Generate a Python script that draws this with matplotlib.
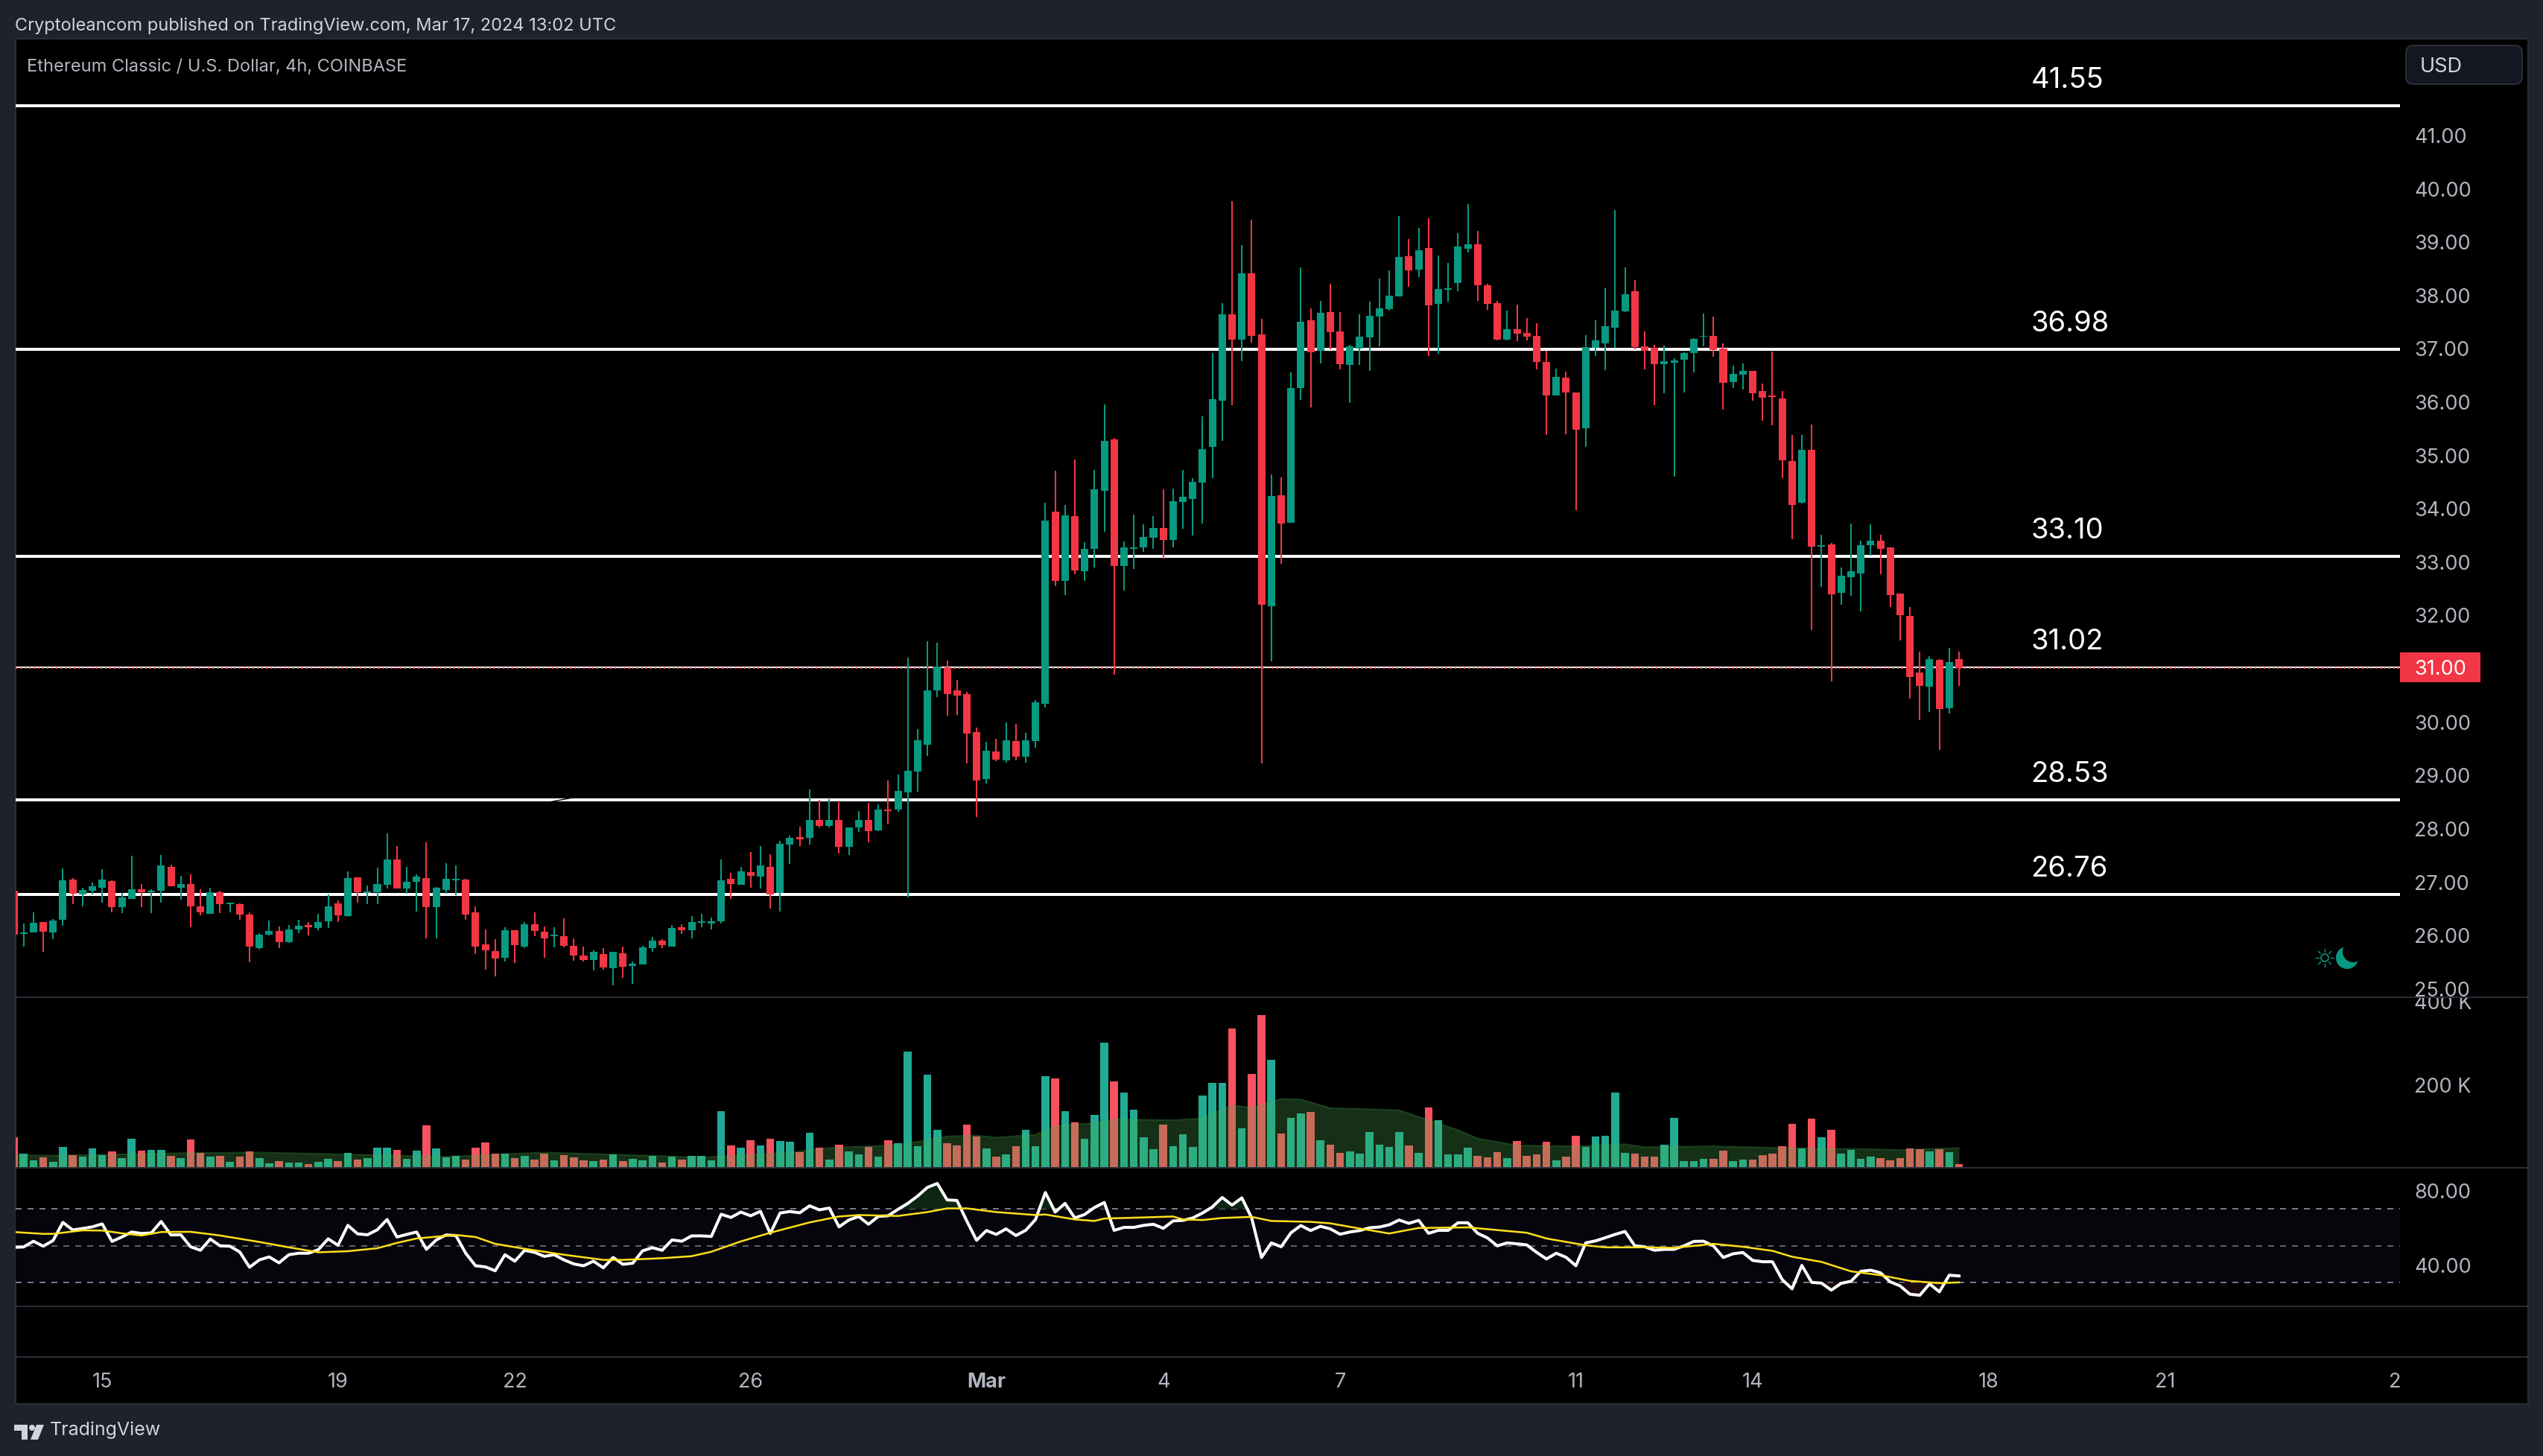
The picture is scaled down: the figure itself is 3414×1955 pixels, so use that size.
# -*- coding: utf-8 -*-
"""ETC/USD 4h chart with volume and RSI panes, TradingView dark layout."""
#%% Imports
import numpy as np
import matplotlib
matplotlib.use("Agg")
import matplotlib.pyplot as plt
from matplotlib.patches import Rectangle, FancyBboxPatch, Circle, Polygon
from matplotlib.transforms import Bbox

plt.rcParams['font.family'] = ['Inter', 'DejaVu Sans']

#%% Data, one entry per 4h candle
highs = [26.82,26.21,26.42,26.24,26.29,27.24,27.06,26.88,26.98,27.23,
         27.02,26.78,27.48,26.95,26.85,27.49,27.31,27.10,27.13,26.85,
         26.88,26.82,26.60,26.59,26.42,26.03,26.27,26.15,26.18,26.28,
         26.24,26.39,26.75,26.64,27.19,27.08,26.92,27.26,27.90,27.66,
         27.27,27.13,27.73,26.89,27.34,27.30,27.05,26.53,26.10,25.92,
         26.14,26.08,26.24,26.42,26.15,26.14,26.31,25.93,25.78,25.71,
         25.75,25.68,25.78,25.50,25.79,25.96,25.92,26.18,26.20,26.35,
         26.39,26.32,27.41,27.16,27.27,27.55,27.66,27.51,27.76,27.86,
         28.03,28.72,28.53,28.54,28.49,28.01,28.32,28.47,28.44,28.89,
         29.00,31.20,29.85,31.50,31.47,31.14,30.78,30.55,29.88,29.62,
         29.67,29.98,29.95,29.78,30.40,34.10,34.70,34.06,34.91,33.36,
         34.71,35.94,35.32,33.37,33.88,33.69,33.85,34.35,34.36,34.71,
         34.56,35.72,36.91,37.84,39.76,38.93,39.41,37.55,34.63,34.58,
         36.54,38.51,37.75,37.88,38.21,37.68,37.06,37.63,37.87,38.30,
         38.46,39.48,39.04,39.25,39.44,38.74,38.60,39.16,39.70,39.20,
         38.21,37.89,37.70,37.82,37.56,37.47,36.95,36.62,36.56,36.17,
         37.24,37.52,38.12,39.59,38.51,38.28,37.31,37.06,37.05,36.81,
         36.92,37.19,37.65,37.59,37.09,36.67,36.71,36.57,36.34,36.94,
         36.20,35.37,35.37,35.57,33.50,33.35,32.89,33.71,33.39,33.70,
         33.50,33.26,32.40,32.15,31.31,31.22,31.17,31.38,31.31]

body_tops = [26.82,26.04,26.22,26.24,26.27,27.02,27.03,26.84,26.91,27.03,
             27.01,26.70,26.85,26.85,26.82,27.30,27.28,26.95,26.95,26.54,
             26.80,26.80,26.60,26.57,26.38,26.00,26.07,26.07,26.10,26.17,
             26.18,26.24,26.54,26.59,27.06,27.08,26.81,26.95,27.41,27.41,
             26.99,27.09,27.06,26.88,27.05,27.05,27.03,26.42,25.82,25.69,
             26.08,26.08,26.20,26.20,26.06,26.00,25.97,25.79,25.61,25.68,
             25.64,25.68,25.66,25.46,25.76,25.89,25.89,26.13,26.14,26.24,
             26.25,26.25,27.02,27.05,27.19,27.17,27.30,27.27,27.70,27.82,
             27.83,28.15,28.16,28.15,28.16,28.01,28.15,28.16,28.35,28.35,
             28.70,29.07,29.65,30.58,31.03,31.01,30.58,30.51,29.80,29.45,
             29.44,29.65,29.63,29.65,30.36,33.76,33.93,33.86,33.85,33.24,
             34.35,35.26,35.29,33.26,33.27,33.46,33.62,33.62,34.13,34.21,
             34.49,35.10,36.04,37.63,37.63,38.40,38.40,37.26,34.23,34.24,
             36.25,37.49,37.52,37.66,37.68,37.31,37.03,37.22,37.61,37.75,
             37.98,38.71,38.72,38.83,38.88,38.11,38.12,38.90,38.95,38.95,
             38.18,37.84,37.35,37.35,37.28,37.23,36.74,36.46,36.45,36.17,
             37.02,37.15,37.41,37.70,38.01,38.07,37.03,37.01,36.75,36.77,
             36.91,37.17,37.23,37.23,36.99,36.52,36.57,36.57,36.20,36.11,
             36.06,34.88,35.09,35.09,33.31,33.32,32.73,32.82,33.31,33.39,
             33.39,33.26,32.40,31.98,30.92,31.17,31.16,31.11,31.17]

body_bottoms = [26.00,26.02,26.04,26.06,26.04,26.28,26.77,26.75,26.82,26.88,
                26.52,26.52,26.68,26.80,26.80,26.82,26.91,26.88,26.53,26.42,
                26.39,26.57,26.57,26.38,25.78,25.75,26.00,25.86,25.87,26.10,
                26.14,26.13,26.25,26.36,26.35,26.80,26.78,26.80,26.94,26.87,
                26.87,26.99,26.52,26.52,26.84,27.02,26.38,25.78,25.71,25.55,
                25.57,25.81,25.78,26.07,25.93,25.97,25.79,25.61,25.53,25.53,
                25.39,25.37,25.40,25.41,25.44,25.75,25.81,25.78,26.08,26.08,
                26.22,26.21,26.25,26.95,26.94,27.10,27.09,26.75,26.78,27.69,
                27.79,27.82,28.04,28.04,27.65,27.65,28.01,27.94,27.96,28.32,
                28.35,28.67,29.06,29.56,30.58,30.51,30.48,29.77,28.90,28.92,
                29.28,29.27,29.34,29.34,29.63,30.33,32.63,32.64,32.83,32.82,
                33.24,34.32,32.91,32.91,33.24,33.27,33.44,33.41,33.41,34.11,
                34.17,34.48,35.15,36.02,37.16,37.16,37.23,32.19,32.16,33.71,
                33.72,36.25,36.92,36.95,37.30,36.70,36.68,36.99,37.20,37.59,
                37.73,37.97,38.46,38.47,37.80,37.83,38.10,38.22,38.86,38.18,
                37.83,37.16,37.16,37.27,37.22,36.74,36.11,36.11,36.17,35.47,
                35.50,37.01,37.09,37.38,37.69,37.02,36.95,36.70,36.70,36.73,
                36.78,36.91,37.21,36.96,36.35,36.36,36.50,36.15,36.07,36.09,
                34.90,34.06,34.10,33.28,33.28,32.39,32.41,32.71,32.78,33.31,
                33.24,32.37,31.99,30.83,30.67,30.65,30.23,30.25,31.00]

lows = [26.00,25.78,26.04,25.68,25.92,26.17,26.57,26.54,26.75,26.61,
        26.42,26.41,26.67,26.52,26.41,26.60,26.91,26.66,26.14,26.36,
        26.39,26.41,26.42,26.28,25.48,25.72,25.99,25.75,25.85,26.03,
        25.99,26.08,26.13,26.24,26.34,26.60,26.57,26.57,26.87,26.87,
        26.77,26.43,25.93,25.93,26.77,26.74,26.28,25.64,25.34,25.22,
        25.50,25.47,25.75,25.97,25.57,25.76,25.76,25.51,25.50,25.33,
        25.34,25.06,25.19,25.08,25.44,25.68,25.75,25.78,26.01,25.94,
        26.14,26.10,26.21,26.68,26.94,26.88,26.87,26.49,26.43,27.33,
        27.66,27.69,28.01,28.01,27.52,27.49,27.93,27.73,27.94,28.08,
        28.30,26.70,28.68,29.35,30.45,30.11,30.12,29.21,28.21,28.84,
        29.25,29.23,29.27,29.23,29.51,30.26,32.54,32.37,32.76,32.64,
        32.89,33.56,30.87,32.45,32.86,33.18,33.24,33.06,33.27,33.61,
        33.48,33.71,34.56,35.26,35.93,36.75,37.10,29.21,31.13,32.96,
        33.72,36.03,35.89,36.71,36.98,36.60,35.97,36.68,36.57,37.03,
        37.70,37.97,38.15,38.33,36.85,36.89,37.87,38.07,38.79,37.89,
        37.72,37.15,37.15,37.13,37.15,36.60,35.37,36.11,35.39,33.96,
        35.15,36.85,36.59,37.01,37.68,36.98,36.60,35.93,36.15,34.59,
        36.17,36.54,37.03,36.84,35.85,36.25,36.22,36.01,35.64,35.55,
        34.56,33.42,34.09,31.71,32.52,30.75,32.19,32.36,32.06,33.11,
        32.76,32.15,31.52,30.43,30.02,30.18,29.47,30.15,30.67]

directions = ("rggrggrggg" "rggrggrgrr" "grgrrggrgg" "rggrgrgggr" "ggrgggrrrr"
              "grgrrgrrrg" "rgrgggrgrg" "gggrgrgrgg" "rgrgrggrgr" "gggggrrrrg"
              "rgrgggrgrg" "ggrggggrgg" "ggggrgrrgr" "ggrgrrgggg" "ggrgrggggr"
              "rrgrrrrgrr" "gggggrrrgg" "gggrrggrrr" "rrgrgrgggg" "rrrrrgrgr")

volume_k = [71,32,16,23,12,48,28,25,45,28,38,21,68,40,41,41,27,21,67,34,
            25,27,12,25,38,21,9,14,11,11,7,12,20,14,34,18,21,47,47,41,
            20,40,101,45,23,27,18,47,60,32,32,21,27,18,32,16,28,23,16,14,
            18,30,14,20,16,27,11,25,18,27,27,16,135,52,47,65,52,68,63,61,
            36,83,47,18,54,38,30,48,25,65,57,278,50,223,90,57,52,103,74,45,
            25,30,50,90,50,218,213,135,108,68,126,299,207,180,139,72,43,103,50,79,
            48,173,203,202,334,94,225,366,259,81,119,130,133,65,54,34,38,32,84,54,
            48,84,52,34,143,113,30,30,47,27,23,36,21,63,27,30,61,16,25,76,
            48,74,76,180,34,32,25,25,54,119,14,14,20,20,40,14,18,18,28,32,
            50,104,45,117,72,90,32,41,20,25,21,16,21,45,43,38,43,36,7]

volume_ma_idx = [0,5,18,25,31,44,54,64,70,74,79,83,90,95,98,100,104,106,110,112,
                 118,121,124,126,129,131,134,137,141,143,147,149,153,159,164,166,173,180,189,192,198]
volume_ma_k = [28,28,34,35,32,25,35,28,23,28,35,46,53,74,76,71,78,99,106,115,
               113,117,149,143,164,163,142,140,137,121,89,69,52,50,55,48,50,46,43,41,46]

rsi = [49.2,49.4,52.5,49.8,52.9,62.7,58.6,59.4,60.3,61.9,
       52.4,54.8,57.5,56.7,57.0,63.2,55.9,56.0,49.5,47.6,
       53.7,50.0,49.8,46.7,38.4,42.4,44.0,40.8,45.2,46.0,
       46.0,47.9,53.8,50.3,61.1,56.5,56.0,58.7,64.3,54.8,
       56.2,57.5,48.1,53.2,55.9,55.6,46.0,39.2,38.6,36.5,
       45.2,41.7,47.6,46.5,44.3,45.2,42.4,40.2,39.2,41.7,
       38.1,43.7,40.0,40.6,47.3,49.0,47.6,53.2,52.5,55.4,
       55.4,55.1,67.1,65.4,68.3,66.3,68.7,56.7,67.8,68.6,
       67.9,71.7,69.5,70.5,60.3,64.0,65.9,61.7,66.0,66.3,
       69.8,73.0,77.0,81.7,83.8,74.9,74.6,63.5,53.0,58.3,
       56.2,59.2,55.6,58.4,64.3,78.9,68.3,73.0,65.1,67.0,
       70.8,73.5,58.4,60.0,60.0,61.1,61.7,59.5,63.5,63.8,
       65.1,67.8,71.1,76.2,72.1,76.0,65.1,43.7,51.6,49.5,
       57.1,61.0,58.3,60.6,59.2,56.3,57.5,58.3,59.8,60.2,
       61.4,64.0,62.2,63.8,56.8,58.4,58.4,62.5,62.5,56.8,
       54.3,50.0,51.6,51.1,50.5,46.5,42.9,46.0,43.8,39.2,
       51.6,52.7,54.4,56.2,57.8,50.0,49.5,47.6,48.1,48.1,
       50.0,52.4,52.5,50.0,43.7,45.7,46.4,42.1,41.4,41.4,
       31.7,26.7,39.4,30.2,29.8,26.0,29.7,30.8,36.2,36.8,
       35.4,30.5,28.3,23.8,23.2,29.4,25.1,34.1,33.7]

rsi_ma_idx = [0,3,4,7,9,11,13,15,18,20,21,25,28,31,34,37,39,41,45,47,49,52,56,60,62,
              66,69,71,74,77,81,84,86,90,93,95,97,100,104,105,108,110,111,115,118,119,
              121,123,126,128,132,134,136,140,143,148,154,156,160,162,166,169,173,176,
              179,181,184,187,190,193,196,198]
rsi_ma = [57.5,56.5,56.5,58.4,58.3,56.8,55.6,57.5,57.6,56.3,55.6,52.1,49.2,46.5,47.1,48.7,51.6,54.0,55.9,54.8,51.1,48.4,45.2,42.4,42.4,
          43.3,44.4,46.8,52.4,57.1,62.7,65.9,66.7,66.2,68.3,70.3,70.3,68.3,66.7,67.0,64.3,63.5,64.8,65.4,65.9,64.3,
          64.0,65.1,65.7,63.5,63.0,62.2,60.3,56.7,59.7,60.0,57.1,54.0,50.3,49.2,49.2,48.9,51.1,49.5,
          47.3,44.1,41.3,36.2,34.1,31.0,29.8,30.2]

level_values = [41.55, 36.98, 33.10, 31.02, 28.53, 26.76]
level_widths = [4, 4, 4, 2, 4, 4]
last_price = 31.00

price_ticks = list(range(25, 42))
volume_ticks = [200, 400]
rsi_ticks = [40, 80]
rsi_bands = [30, 50, 70]
time_tick_idx = [9, 33, 51, 75, 99, 117, 135, 159, 177, 201, 219, 242.4]
time_tick_labels = ['15', '19', '22', '26', 'Mar', '4', '7', '11', '14', '18', '21', '2']

#%% Layout helpers
W, H = 3414, 1956
PX = 72.0 / 100.0  # points per pixel at dpi 100
XLIM = (0.19, 242.88)
PLOT_L, PLOT_R = 21, 3222
PANEL_R, PANEL_T, PANEL_B = 3394, 53, 1886
BORDER = '#2a2e39'
LABEL = '#b2b5be'
GREEN, RED = '#089981', '#f23645'

fig = plt.figure(figsize=(W / 100, H / 100), dpi=100, facecolor='#1e222d')


def pane(x0, y0, x1, y1, zorder=1):
    ax = fig.add_axes([x0 / W, 1 - y1 / H, (x1 - x0) / W, (y1 - y0) / H], zorder=zorder)
    ax.set_facecolor('none')
    for s in ax.spines.values():
        s.set_visible(False)
    ax.set_xlim(*XLIM)
    ax.set_xticks([])
    ax.yaxis.tick_right()
    ax.tick_params(axis='y', length=0, pad=19 * PX, labelsize=19.5, labelcolor=LABEL)
    return ax


# pixel space overlay for chrome that is not data
back = fig.add_axes([0, 0, 1, 1], zorder=0)
back.set_xlim(0, W)
back.set_ylim(H, 0)
back.axis('off')
back.add_patch(Rectangle((PLOT_L, PANEL_T), PANEL_R - PLOT_L, PANEL_B - PANEL_T,
                         facecolor='black', edgecolor=BORDER, linewidth=2 * PX))

idx = np.arange(len(highs))
ups = np.array([d == 'g' for d in directions])
highs = np.array(highs)
lows = np.array(lows)
body_tops = np.array(body_tops)
body_bottoms = np.array(body_bottoms)
rsi = np.array(rsi)

#%% Price pane
ax = pane(PLOT_L, PANEL_T, PLOT_R, 1340, zorder=2)
ax.set_ylim(24.83, 42.80)
ax.set_yticks(price_ticks)
ax.set_yticklabels(['%.2f' % p for p in price_ticks])

for level, width in zip(level_values, level_widths):
    ax.axhline(level, color='white', linewidth=width * PX, zorder=1)
    ax.annotate('%.2f' % level, xy=(205.3, level), xytext=(0, 25), textcoords='offset points',
                color='white', fontsize=27.5, ha='left', va='center')
ax.axhline(last_price, color=RED, linewidth=2 * PX, linestyle=(0, (1, 2)), zorder=1.5)
# small nick in the 28.53 line
ax.plot([54, 57.4], [28.47, 28.59], color='black', linewidth=1.0, zorder=1.2)

candle_colors = np.where(ups, GREEN, RED)
ax.vlines(idx, lows, highs, colors=candle_colors, linewidth=2 * PX, zorder=2)
ax.bar(idx, body_tops - body_bottoms, bottom=body_bottoms, width=0.76,
       color=candle_colors, linewidth=0, zorder=3)

#%% Volume pane
vol = pane(PLOT_L, 1340, PLOT_R, 1569, zorder=2)
vol.set_ylim(-1.8, 409)
vol.bar(idx, volume_k, width=0.8, linewidth=0, zorder=2,
        color=np.where(ups, '#22ab94', '#f7525f'))
vol.fill_between(volume_ma_idx, volume_ma_k, 0, color='#4caf50', alpha=0.28, linewidth=0, zorder=3)
vol.plot(volume_ma_idx, volume_ma_k, color='#4caf50', alpha=0.3, linewidth=1.5, zorder=3)
vol.set_yticks(volume_ticks)
vol.set_yticklabels(['%d K' % v for v in volume_ticks])
# the 400 K label is cut by the pane border, as in TradingView
clip = Bbox([[0, H - 1569], [W, H - 1340]])
for t in vol.get_yticklabels():
    t.set_clip_on(True)
    t.set_clip_box(clip)

#%% RSI pane
pane_rsi = pane(PLOT_L, 1570, PLOT_R, 1755, zorder=2)
pane_rsi.set_ylim(17.24, 91.9)
pane_rsi.axhspan(rsi_bands[0], rsi_bands[2], color='#07050c', linewidth=0, zorder=1)
for band, col in zip(rsi_bands, ['#787b86', '#5d606b', '#787b86']):
    pane_rsi.axhline(band, color=col, linewidth=2 * PX, linestyle=(0, (4, 4)), zorder=1.5)
pane_rsi.fill_between(idx, rsi, 70, where=rsi > 70, interpolate=True, color='#0c2613', linewidth=0, zorder=2)
pane_rsi.fill_between(idx, rsi, 30, where=rsi < 30, interpolate=True, color='#1c0a0c', linewidth=0, zorder=2)
pane_rsi.plot(idx, rsi, color='white', linewidth=4 * PX, zorder=3)
pane_rsi.plot(rsi_ma_idx, rsi_ma, color='#ffe01a', linewidth=2.5 * PX, zorder=4)
pane_rsi.set_yticks(rsi_ticks)
pane_rsi.set_yticklabels(['%.2f' % v for v in rsi_ticks])

#%% Time axis, labels hang just below this thin strip
time_ax = pane(PLOT_L, 1823, PLOT_R, 1843, zorder=2)
time_ax.set_yticks([])
time_ax.set_xticks(time_tick_idx)
time_ax.set_xticklabels(time_tick_labels)
time_ax.tick_params(axis='x', length=0, pad=0, labelsize=19.5, labelcolor=LABEL)
for t in time_ax.get_xticklabels():
    if t.get_text() == 'Mar':
        t.set_fontweight('bold')

#%% Chrome on top: dividers, badges, captions, logo
top = fig.add_axes([0, 0, 1, 1], zorder=5)
top.set_xlim(0, W)
top.set_ylim(H, 0)
top.axis('off')
for y in [1340, 1569, 1755, 1823]:
    top.plot([PLOT_L, PANEL_R], [y, y], color=BORDER, linewidth=2 * PX)

top.add_patch(Rectangle((3222, 877), 108, 40, facecolor=RED, linewidth=0))
top.text(3241, 899, '%.2f' % last_price, color='white', fontsize=19.5, ha='left', va='center')
top.add_patch(FancyBboxPatch((3236, 68), 144, 40, boxstyle='round,pad=6,rounding_size=10',
                             facecolor='#131722', edgecolor=BORDER, linewidth=2 * PX))
top.text(3249, 90, 'USD', color='#d1d4dc', fontsize=19.5, ha='left', va='center')

top.text(20, 35, 'Cryptoleancom published on TradingView.com, Mar 17, 2024 13:02 UTC',
         color='#d1d4dc', fontsize=17, ha='left', va='center')
top.text(36, 90, 'Ethereum Classic / U.S. Dollar, 4h, COINBASE',
         color=LABEL, fontsize=17, ha='left', va='center')

# sun and moon icon
top.add_patch(Circle((3121, 1287), 5, facecolor='none', edgecolor=GREEN, linewidth=1.2))
for a in np.deg2rad(np.arange(0, 360, 45)):
    top.plot([3121 + 8 * np.cos(a), 3121 + 12 * np.cos(a)], [1287 + 8 * np.sin(a), 1287 + 12 * np.sin(a)],
             color=GREEN, linewidth=1.0)
top.add_patch(Circle((3151, 1287), 15, facecolor=GREEN, linewidth=0))
top.add_patch(Circle((3159, 1279), 14, facecolor='black', linewidth=0))

# TradingView logo
LOGO = '#d1d4dc'
top.add_patch(Polygon([(19, 1914), (37, 1914), (37, 1934), (29, 1934), (29, 1922), (19, 1922)],
                      facecolor=LOGO, linewidth=0))
top.add_patch(Circle((43, 1918), 4, facecolor=LOGO, linewidth=0))
top.add_patch(Polygon([(49, 1914), (59, 1914), (51, 1934), (41, 1934)], facecolor=LOGO, linewidth=0))
top.text(67, 1920, 'TradingView', color=LOGO, fontsize=18, ha='left', va='center')

fig.savefig('out.png', dpi=100, facecolor=fig.get_facecolor())
